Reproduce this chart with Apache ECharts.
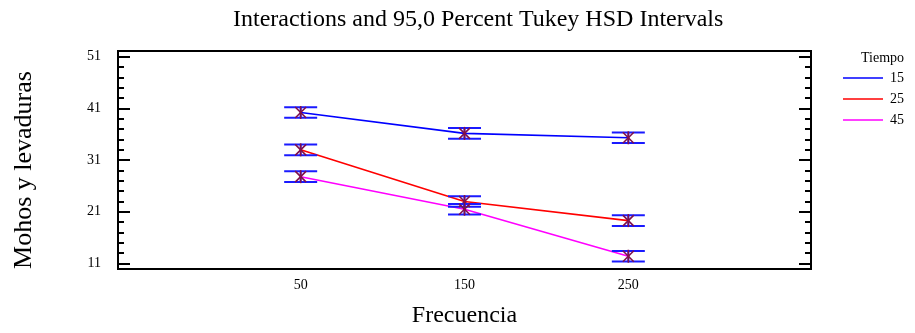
<!DOCTYPE html>
<html><head><meta charset="utf-8">
<script src="https://cdn.jsdelivr.net/npm/echarts@6/dist/echarts.min.js"></script>
<style>html,body{margin:0;padding:0;background:#fff}#c{width:915px;height:333px}</style>
</head><body><div id="c"></div>
<script>
// ---- data ----
var frecuencia = [50, 150, 250];
var tiempoNames = ['15', '25', '45'];
var mean15 = [40.2, 36.15, 35.3];
var mean25 = [32.97, 22.96, 19.27];
var mean45 = [27.77, 21.47, 12.37];
var hsdHalf = 1.03;            // half width of Tukey HSD interval
var yLabels = [11, 21, 31, 41, 51];
var yMinor = [13, 15, 17, 19, 23, 25, 27, 29, 33, 35, 37, 39, 43, 45, 47, 49];

var FONT = '"Liberation Serif", "DejaVu Serif", serif';
var colors = ['#0000ff', '#ff0000', '#ff00ff'];
var means = [mean15, mean25, mean45];

var chart = echarts.init(document.getElementById('c'), null, {renderer: 'canvas'});

function yTickAxis(pos, custom, len) {
  return {
    type: 'value', position: pos, min: 9.9, max: 52.1,
    axisLine: {show: false}, splitLine: {show: false},
    axisTick: {show: true, inside: true, length: len, customValues: custom,
      lineStyle: {color: '#000', width: 2}},
    axisLabel: {show: false}
  };
}

var series = [];
means.forEach(function (m, k) {
  series.push({
    name: tiempoNames[k], type: 'line', xAxisIndex: 0, yAxisIndex: 0,
    data: frecuencia.map(function (f, i) { return [f, m[i]]; }),
    symbol: 'none', lineStyle: {color: colors[k], width: 1.6},
    itemStyle: {color: colors[k]}, z: 2, animation: false
  });
});
means.forEach(function (m, k) {
  series.push({
    name: 'err' + tiempoNames[k], type: 'custom', xAxisIndex: 0, yAxisIndex: 0,
    data: frecuencia.map(function (f, i) { return [f, m[i], m[i] - hsdHalf, m[i] + hsdHalf]; }),
    z: 5, animation: false,
    renderItem: function (params, api) {
      var c = api.coord([api.value(0), api.value(1)]);
      var lo = api.coord([api.value(0), api.value(2)]);
      var hi = api.coord([api.value(0), api.value(3)]);
      var hw = 16.5, s = 5.5;
      var blue = {stroke: '#1a1aff', lineWidth: 2};
      var star = {stroke: '#80104a', lineWidth: 1.6};
      return {type: 'group', children: [
        {type: 'line', shape: {x1: c[0] - hw, y1: hi[1], x2: c[0] + hw, y2: hi[1]}, style: blue},
        {type: 'line', shape: {x1: c[0] - hw, y1: lo[1], x2: c[0] + hw, y2: lo[1]}, style: blue},
        {type: 'line', shape: {x1: c[0], y1: hi[1], x2: c[0], y2: lo[1]}, style: blue},
        {type: 'line', shape: {x1: c[0] - s, y1: c[1] - s, x2: c[0] + s, y2: c[1] + s}, style: star},
        {type: 'line', shape: {x1: c[0] - s, y1: c[1] + s, x2: c[0] + s, y2: c[1] - s}, style: star},
        {type: 'line', shape: {x1: c[0], y1: c[1] - s - 1, x2: c[0], y2: c[1] + s + 1}, style: star}
      ]};
    }
  });
});

chart.setOption({
  animation: false,
  backgroundColor: '#fff',
  title: [
    {text: 'Interactions and 95,0 Percent Tukey HSD Intervals', left: 228, top: 3,
     textStyle: {fontFamily: FONT, fontSize: 24, fontWeight: 'normal', color: '#000'}},
    {text: 'Tiempo', left: 856, top: 46,
     textStyle: {fontFamily: FONT, fontSize: 14, fontWeight: 'normal', color: '#000'}}
  ],
  graphic: [{
    type: 'text', x: 24, y: 170, rotation: Math.PI / 2,
    style: {text: 'Mohos y levaduras', fontFamily: FONT, fontSize: 26, fill: '#000',
      align: 'center', verticalAlign: 'middle'}
  }],
  legend: {
    data: tiempoNames, orient: 'vertical', left: 838, top: 66,
    itemWidth: 40, itemHeight: 14, itemGap: 7, icon: 'path://M0,6.5 L40,6.5 L40,8 L0,8 Z',
    textStyle: {fontFamily: FONT, fontSize: 14, color: '#000', padding: [0, 0, 0, 2]}
  },
  grid: {left: 118, right: 104, top: 51, height: 221, show: true,
    borderColor: '#000', borderWidth: 2, backgroundColor: 'transparent'},
  xAxis: {
    type: 'value', min: -61.5, max: 361.5,
    axisLine: {show: false}, axisTick: {show: false}, splitLine: {show: false},
    axisLabel: {customValues: frecuencia, margin: 9, fontFamily: FONT, fontSize: 14, color: '#000'},
    name: 'Frecuencia', nameLocation: 'middle', nameGap: 35,
    nameTextStyle: {fontFamily: FONT, fontSize: 24, color: '#000'}
  },
  yAxis: [
    {
      type: 'value', position: 'left', min: 9.9, max: 52.1,
      axisLine: {show: false}, splitLine: {show: false}, axisTick: {show: false},
      axisLabel: {show: true, customValues: yLabels, margin: 17,
        fontFamily: FONT, fontSize: 14, color: '#000'}
    },
    yTickAxis('left', yLabels, 12),
    yTickAxis('left', yMinor, 6),
    yTickAxis('right', yLabels, 12),
    yTickAxis('right', yMinor, 6)
  ],
  series: series
});
</script></body></html>
